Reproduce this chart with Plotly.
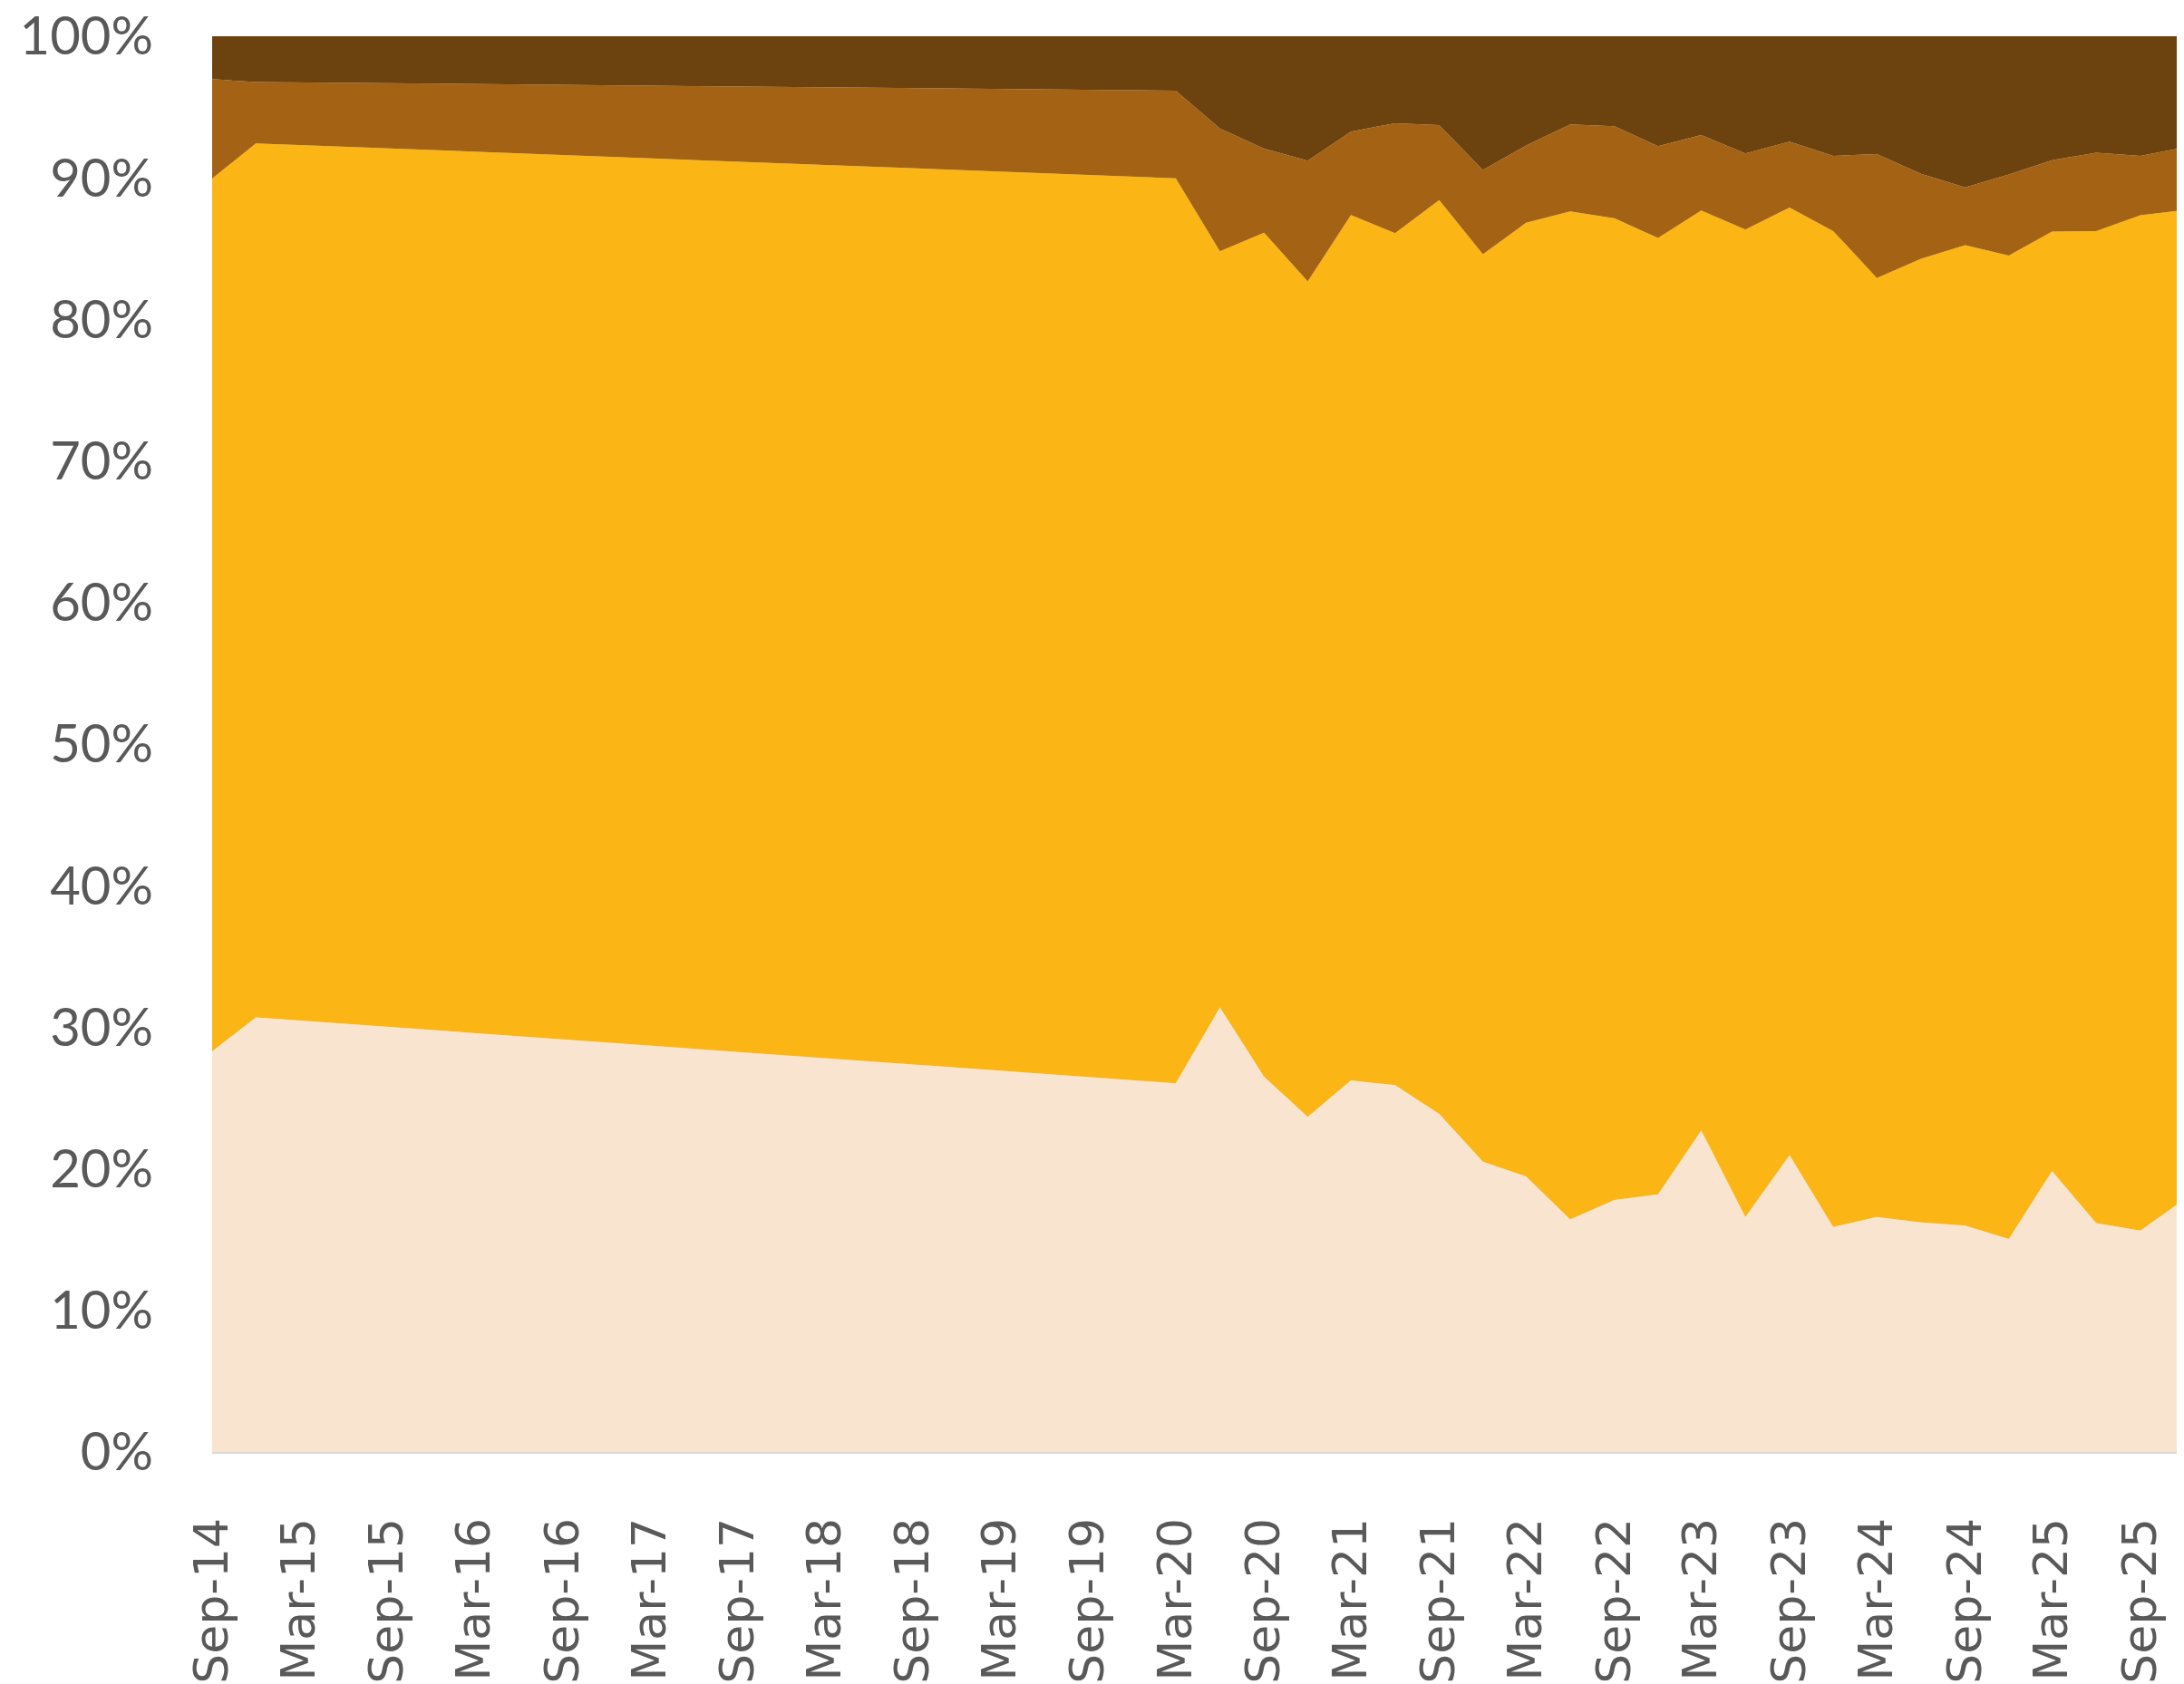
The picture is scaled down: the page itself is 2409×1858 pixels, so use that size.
import plotly.graph_objects as go

# Dates of observations
dates = ["2014-09-01", "2014-12-01", "2020-03-01", "2020-06-01", "2020-09-01", "2020-12-01",
         "2021-03-01", "2021-06-01", "2021-09-01", "2021-12-01", "2022-03-01", "2022-06-01",
         "2022-09-01", "2022-12-01", "2023-03-01", "2023-06-01", "2023-09-01", "2023-12-01",
         "2024-03-01", "2024-06-01", "2024-09-01", "2024-12-01", "2025-03-01", "2025-06-01",
         "2025-09-01", "2025-12-01"]

# Shares (%) of each band, bottom to top
series_1 = [28.3, 30.7, 26.04, 31.41, 26.51, 23.67, 26.25, 25.91, 23.88, 20.51, 19.47, 16.42,
            17.80, 18.19, 22.71, 16.59, 20.96, 15.90, 16.59, 16.22, 15.99, 15.05, 19.85, 16.16,
            15.63, 17.82]
series_2 = [61.65, 61.73, 63.93, 53.40, 59.62, 59.01, 61.12, 60.18, 64.55, 64.09, 67.35, 71.21,
            69.34, 67.56, 64.98, 69.76, 66.94, 70.34, 66.34, 68.06, 69.25, 69.46, 66.35, 70.08,
            71.72, 69.91]
series_3 = [7.02, 4.34, 6.19, 8.68, 5.93, 8.53, 5.89, 7.77, 5.30, 5.95, 5.46, 6.14,
            6.50, 6.48, 5.33, 5.37, 4.65, 5.31, 8.75, 6.01, 4.09, 5.72, 5.05, 5.53,
            4.20, 4.42]
series_4 = [3.03, 3.23, 3.84, 6.51, 7.94, 8.79, 6.74, 6.14, 6.27, 9.45, 7.72, 6.23,
            6.36, 7.77, 6.98, 8.28, 7.45, 8.45, 8.32, 9.71, 10.67, 9.77, 8.75, 8.23,
            8.45, 7.85]

tick_dates = ["2014-09-01", "2015-03-01", "2015-09-01", "2016-03-01", "2016-09-01", "2017-03-01",
              "2017-09-01", "2018-03-01", "2018-09-01", "2019-03-01", "2019-09-01", "2020-03-01",
              "2020-09-01", "2021-03-01", "2021-09-01", "2022-03-01", "2022-09-01", "2023-03-01",
              "2023-09-01", "2024-03-01", "2024-09-01", "2025-03-01", "2025-09-01"]
tick_labels = ["Sep-14", "Mar-15", "Sep-15", "Mar-16", "Sep-16", "Mar-17", "Sep-17", "Mar-18",
               "Sep-18", "Mar-19", "Sep-19", "Mar-20", "Sep-20", "Mar-21", "Sep-21", "Mar-22",
               "Sep-22", "Mar-23", "Sep-23", "Mar-24", "Sep-24", "Mar-25", "Sep-25"]

y_ticks = [0, 10, 20, 30, 40, 50, 60, 70, 80, 90, 100]
y_labels = ["0%", "10%", "20%", "30%", "40%", "50%", "60%", "70%", "80%", "90%", "100%"]

colors = ["#F9E5CF", "#FBB615", "#A46314", "#6C420E"]
names = ["Series 1", "Series 2", "Series 3", "Series 4"]

fig = go.Figure()
for vals, col, nm in zip([series_1, series_2, series_3, series_4], colors, names):
    fig.add_trace(go.Scatter(
        x=dates, y=vals, name=nm, mode="none",
        stackgroup="one", groupnorm="percent",
        fillcolor=col, line=dict(width=0),
    ))

fig.update_layout(
    width=2401, height=1850,
    margin=dict(l=226, r=0, t=32, b=256),
    paper_bgcolor="white", plot_bgcolor="white",
    showlegend=False,
)
fig.update_xaxes(
    type="date",
    range=["2014-09-01", "2025-12-01"],
    tickvals=tick_dates, ticktext=tick_labels,
    tickangle=-90,
    tickfont=dict(family="DejaVu Sans", size=52, color="#595959"),
    showgrid=False, zeroline=False,
    showline=True, linecolor="#D9D9D9", linewidth=2,
    ticks="", ticklabelstandoff=50,
    ticklabeloverflow="allow", automargin=False,
)
fig.update_yaxes(
    range=[0, 100],
    tickvals=y_ticks, ticktext=y_labels,
    tickfont=dict(family="Lato", size=58, color="#595959"),
    showgrid=False, zeroline=False, showline=False,
    ticks="", ticklabelstandoff=64,
    ticklabeloverflow="allow", automargin=False,
)

fig.write_html("out.html")
